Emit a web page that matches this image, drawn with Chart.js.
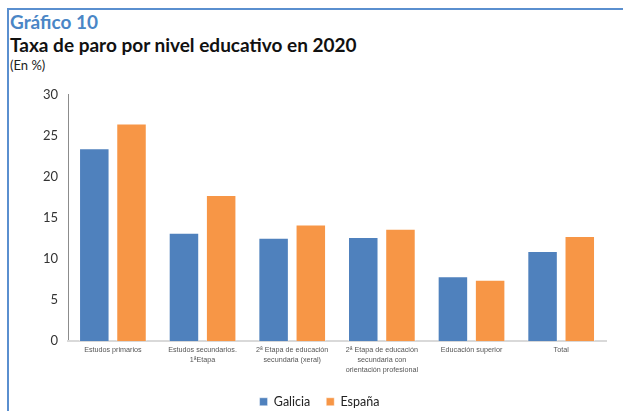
<!DOCTYPE html>
<html>
<head>
<meta charset="utf-8">
<script src="https://cdn.jsdelivr.net/npm/chart.js@4"></script>
<style>
  body { margin: 0; background: #fff; }
  #page { position: relative; width: 623px; height: 411px; overflow: hidden; font-family: Lato, sans-serif; }
  #frame { position: absolute; left: 7px; top: 8px; right: 0; bottom: 0; border-top: 2px solid #5a8fcf; border-left: 2px solid #5a8fcf; }
  #kicker { position: absolute; left: 10px; top: 10px; font-size: 19px; font-weight: bold; color: #4a86c6; }
  #title { position: absolute; left: 10px; top: 33px; font-size: 19px; font-weight: bold; color: #111; }
  #sub { position: absolute; left: 10px; top: 57px; font-size: 13px; color: #222; }
  #wrap { position: absolute; left: 10px; top: 77px; width: 613px; height: 334px; }
</style>
</head>
<body>
<div id="page">
  <div id="frame"></div>
  <div id="kicker">Gráfico 10</div>
  <div id="title">Taxa de paro por nivel educativo en 2020</div>
  <div id="sub">(En %)</div>
  <div id="wrap"><canvas id="chart"></canvas></div>
</div>
<script>
// categories (x axis labels, split in lines like the original)
const categories = [
    "Estudos primarios",
    ["Estudos secundarios.", "1ªEtapa"],
    ["2ª Etapa de educación", "secundaria (xeral)"],
    ["2ª Etapa de educación", "secundaria con", "orientación profesional"],
    "Educación superior",
    "Total"
];

// unemployment rate, %
const galicia = [23.5, 13.2, 12.6, 12.7, 7.9, 11.0];
const espana = [26.5, 17.8, 14.2, 13.7, 7.5, 12.8];

const yTicks = [0, 5, 10, 15, 20, 25, 30];

const ctx = document.getElementById('chart');

new Chart(ctx, {
    type: 'bar',
    data: {
        labels: categories,
        datasets: [
            {
                label: 'Galicia',
                data: galicia,
                backgroundColor: '#4f81bd',
                borderColor: 'rgba(255,255,255,0.45)',
                borderWidth: 1,
                barPercentage: 0.82,
                categoryPercentage: 0.83
            },
            {
                label: 'España',
                data: espana,
                backgroundColor: '#f79646',
                borderColor: 'rgba(255,255,255,0.45)',
                borderWidth: 1,
                barPercentage: 0.82,
                categoryPercentage: 0.83
            }
        ]
    },
    options: {
        responsive: true,
        maintainAspectRatio: false,
        animation: false,
        layout: {
            padding: { left: 23, right: 17, top: 0, bottom: -7 }
        },
        scales: {
            y: {
                min: 0,
                max: 30,
                afterBuildTicks: axis => {
                    axis.ticks = yTicks.map(v => ({ value: v }));
                },
                grid: { display: false, drawTicks: false },
                border: { display: true, color: '#8c8c8c', width: 1 },
                ticks: {
                    color: '#333',
                    padding: 10,
                    font: { family: 'Lato', size: 13 }
                }
            },
            x: {
                grid: { display: false, drawTicks: false },
                border: { display: true, color: '#d9d9d9', width: 2 },
                ticks: {
                    color: '#555',
                    maxRotation: 0,
                    autoSkip: false,
                    padding: 4,
                    font: { family: 'Liberation Sans', size: 7.2, lineHeight: 1.4 }
                }
            }
        },
        plugins: {
            legend: {
                display: true,
                position: 'bottom',
                padding: { top: 1, bottom: 0 },
                labels: {
                    boxWidth: 8,
                    boxHeight: 8,
                    padding: 16,
                    color: '#222',
                    font: { family: 'Lato', size: 12.5 }
                }
            },
            tooltip: { enabled: false }
        }
    }
});
</script>
</body>
</html>
